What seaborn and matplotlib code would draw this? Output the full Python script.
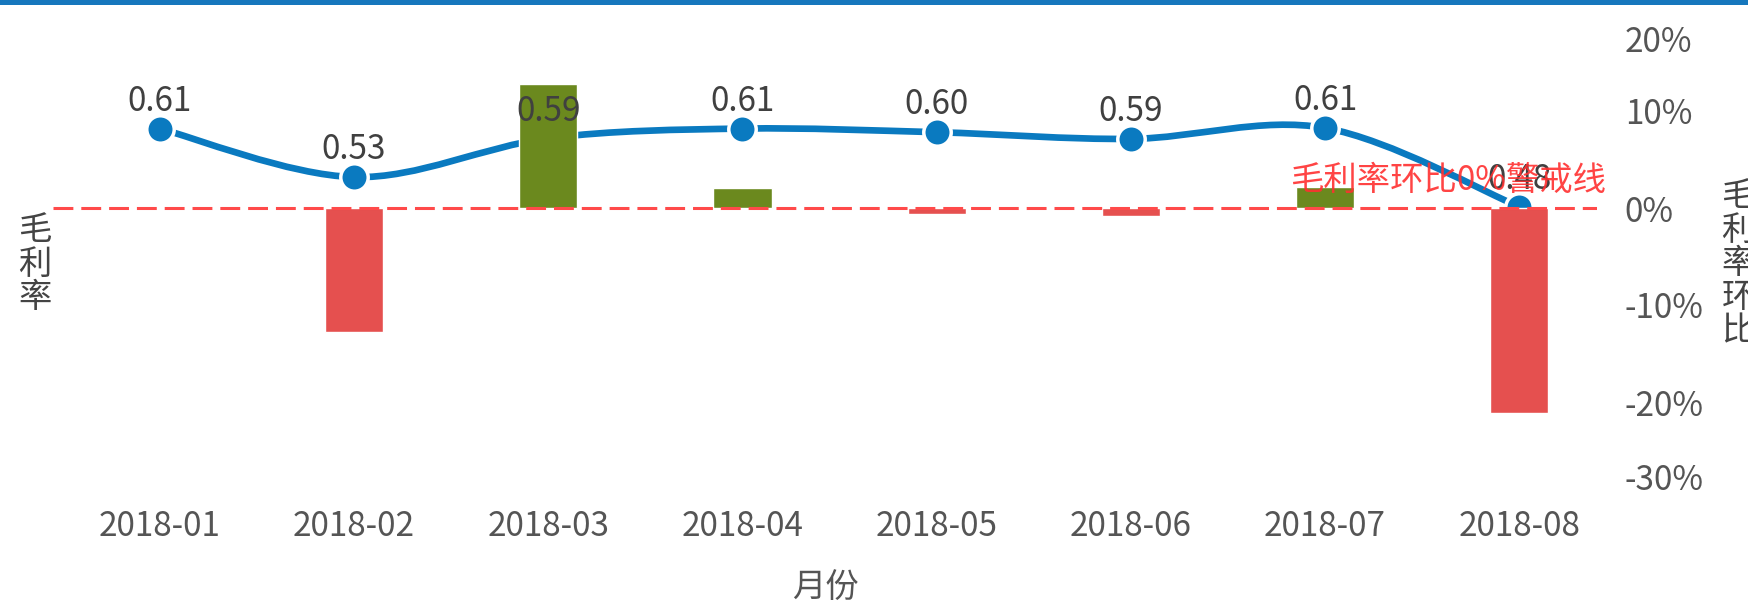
import matplotlib
matplotlib.use("Agg")
import matplotlib.pyplot as plt
import matplotlib.transforms as mtransforms
from matplotlib.path import Path
from matplotlib.patches import PathPatch, Rectangle
from matplotlib.ticker import PercentFormatter
import numpy as np
import seaborn as sns

# données
months = ["2018-01", "2018-02", "2018-03", "2018-04",
          "2018-05", "2018-06", "2018-07", "2018-08"]
gross_margin = [0.611, 0.531, 0.595, 0.611, 0.605, 0.594, 0.612, 0.482]
mom_change = [np.nan, -0.128, 0.128, 0.021, -0.006, -0.008, 0.022, -0.211]
right_ticks = [-0.3, -0.2, -0.1, 0.0, 0.1, 0.2]

BLUE = "#0A7AC0"
GREEN = "#6B891E"
RED = "#E5504F"
TXT = "#555555"
FS = 24


def smooth_path(xs, ys):
    '''Courbe lissee (bezier) passant par les points'''
    pts = np.column_stack([xs, ys])
    n = len(pts)
    verts = [pts[0]]
    codes = [Path.MOVETO]
    for i in range(n - 1):
        p0 = pts[i - 1] if i > 0 else pts[i]
        p1 = pts[i]
        p2 = pts[i + 1]
        p3 = pts[i + 2] if i + 2 < n else pts[i + 1]
        c1 = p1 + (p2 - p0) / 6.0
        c2 = p2 - (p3 - p1) / 6.0
        verts += [c1, c2, p2]
        codes += [Path.CURVE4] * 3
    return Path(verts, codes)


def main():
    sns.set_style("white")
    plt.rcParams['font.family'] = ['Noto Sans CJK SC', 'DejaVu Sans']
    plt.rcParams['axes.unicode_minus'] = False

    fig = plt.figure(figsize=(17.49, 6.02), dpi=100)
    ax = fig.add_axes([53 / 1749, 1 - 499 / 602, (1597 - 53) / 1749, 485 / 602])
    ax2 = ax.twinx()

    # barres du taux de variation (axe droit)
    colors = [GREEN if (v == v and v >= 0) else RED for v in mom_change]
    sns.barplot(x=months, y=mom_change, hue=months, palette=colors, order=months,
                width=0.3, errorbar=None, legend=False, ax=ax2, zorder=2,
                saturation=1)
    ax2.axhline(0, color="#FF4A4A", ls=(0, (6.5, 2.6)), lw=2.2, zorder=4)

    # courbe du taux de marge (axe gauche)
    x = np.arange(len(months))
    ax.add_patch(PathPatch(smooth_path(x, gross_margin), facecolor="none",
                           edgecolor=BLUE, lw=4.8, zorder=2))
    sns.scatterplot(x=x, y=gross_margin, ax=ax, s=390, color=BLUE,
                    edgecolor="white", linewidth=2.5, zorder=3)
    for xi, v in zip(x, gross_margin):
        ax2.annotate(f"{v:.2f}", xy=(xi, v), xycoords=ax.transData,
                     xytext=(0, 7), textcoords="offset points",
                     ha="center", va="bottom", fontsize=FS, color="#404040",
                     zorder=6)

    ax.set_ylim(0, 0.8)
    ax2.set_ylim(-0.3, 0.2)
    ax.set_xlim(-0.55, 7.4)
    ax2.set_xlim(-0.55, 7.4)

    ax.set_yticks([])
    ax.set_ylabel("")
    ax2.set_ylabel("")
    ax2.set_yticks(right_ticks)
    ax2.yaxis.set_major_formatter(PercentFormatter(1.0, decimals=0))
    ax2.tick_params(axis="y", length=0, pad=20, labelsize=FS, labelcolor=TXT)
    ax.set_xticks(x)
    ax.set_xticklabels(months)
    ax.tick_params(axis="x", length=0, pad=7, labelsize=FS, labelcolor=TXT)
    ax2.tick_params(axis="x", length=0, labelbottom=False)
    ax.set_xlabel("月份", fontsize=FS, color=TXT, labelpad=19)

    for a in (ax, ax2):
        for s in a.spines.values():
            s.set_visible(False)

    # decaler les etiquettes extremes vers l'interieur
    labels = ax2.get_yticklabels()
    down = mtransforms.ScaledTranslation(0, -24 / 100, fig.dpi_scale_trans)
    up = mtransforms.ScaledTranslation(0, 22 / 100, fig.dpi_scale_trans)
    labels[-1].set_transform(labels[-1].get_transform() + down)
    labels[0].set_transform(labels[0].get_transform() + up)

    # ligne d'alerte
    ax2.text(1.006, 0.010, "毛利率环比0%警戒线",
             transform=mtransforms.blended_transform_factory(ax2.transAxes, ax2.transData),
             ha="right", va="bottom", fontsize=FS, color="#FF3030", alpha=0.9,
             zorder=7)

    fig.text(35 / 1749, 1 - 264 / 602, "毛\n利\n率", ha="center", va="center",
             fontsize=FS, linespacing=0.95, color="#444444")
    fig.text(1738 / 1749, 1 - 264 / 602, "毛\n利\n率\n环\n比", ha="center",
             va="center", fontsize=FS, linespacing=0.95, color="#444444")

    fig.add_artist(Rectangle((0, 1 - 5 / 602), 1, 5 / 602, transform=fig.transFigure,
                             color="#1677BD", lw=0))

    plt.savefig("out.png", dpi=100)


if __name__ == "__main__":
    main()
